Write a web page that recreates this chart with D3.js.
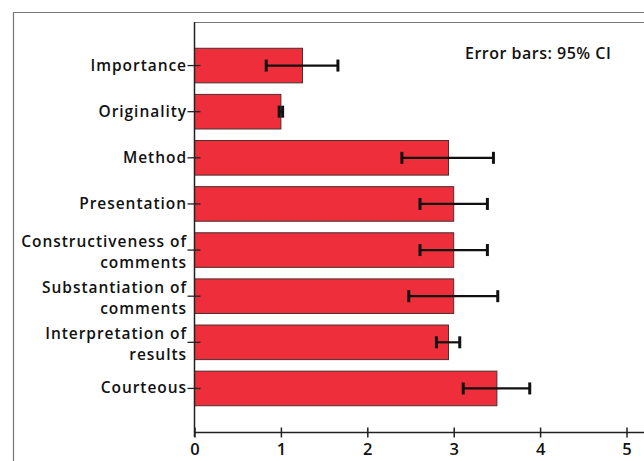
<!DOCTYPE html>
<html><head><meta charset="utf-8">
<script src="https://cdn.jsdelivr.net/npm/d3@7"></script>
<style>body{margin:0;background:#fff}svg{display:block}</style>
</head><body>
<script>
const categories = [["Importance"],["Originality"],["Method"],["Presentation"],["Constructiveness of","comments"],["Substantiation of","comments"],["Interpretation of","results"],["Courteous"]];
const means = [1.25, 1.00, 2.94, 3.00, 3.00, 3.00, 2.94, 3.50];
const ciLow = [0.83, 0.98, 2.40, 2.61, 2.61, 2.48, 2.80, 3.11];
const ciHigh = [1.66, 1.02, 3.46, 3.39, 3.39, 3.51, 3.07, 3.88];
const xTicks = [0,1,2,3,4,5];
const note = "Error bars: 95% CI";

const W=644,H=461;
const svg=d3.select("body").append("svg").attr("width",W).attr("height",H);
const font="'Open Sans', sans-serif";
const x=d3.scaleLinear().domain([0,5]).range([194.5,626.5]);
const ids=categories.map((c,i)=>i);
const y=d3.scaleBand().domain(ids).range([42.5,411.5]).paddingInner(0.25).paddingOuter(0.125);

// outer frame
svg.append("path").attr("d",`M13.5,${H}V12.5H${W}`).attr("fill","none").attr("stroke","#777").attr("stroke-width",1.2);
// plot top frame
svg.append("path").attr("d",`M194.5,22.5H${W}`).attr("fill","none").attr("stroke","#777").attr("stroke-width",1.2);

// bars
svg.append("g").selectAll("rect").data(ids).join("rect")
 .attr("x",x(0)).attr("y",i=>y(i)).attr("width",i=>x(means[i])-x(0)).attr("height",y.bandwidth())
 .attr("fill","#ee2f3b").attr("stroke","#4a3030").attr("stroke-width",1);

// error bars
const eg=svg.append("g").attr("stroke","#111");
ids.forEach(i=>{
  const cy=y(i)+y.bandwidth()/2;
  eg.append("line").attr("x1",x(ciLow[i])).attr("x2",x(ciHigh[i])).attr("y1",cy).attr("y2",cy).attr("stroke-width",2.2);
  [ciLow[i],ciHigh[i]].forEach(v=>{
    eg.append("line").attr("x1",x(v)).attr("x2",x(v)).attr("y1",cy-6).attr("y2",cy+6).attr("stroke-width",3);
  });
});

// y axis
const yAxis=d3.axisLeft(y).tickSize(6).tickFormat("");
const ya=svg.append("g").attr("transform","translate(194.5,0)").call(yAxis);
ya.select(".domain").attr("d","M0,22V437").attr("stroke","#222").attr("stroke-width",1.5);
ya.selectAll(".tick line").attr("x1",-7).attr("x2",6).attr("stroke","#222").attr("stroke-width",1.3);
ids.forEach(i=>{
  const cy=y(i)+y.bandwidth()/2;
  const lines=categories[i];
  const lh=21.2;
  const start=lines.length>1 ? cy-3.5 : cy+5;
  lines.forEach((s,k)=>svg.append("text").attr("text-anchor","end").attr("font-family",font).attr("font-weight",600)
    .attr("font-size",15.5).attr("letter-spacing","0.95px").attr("fill","#111")
    .attr("x",187).attr("y",start+k*lh).text(s));
});

// x axis
const xAxis=d3.axisBottom(x).tickValues(xTicks).tickSize(5).tickFormat(d3.format("d"));
const xa=svg.append("g").attr("transform","translate(0,432.5)").call(xAxis);
xa.select(".domain").attr("d",`M194.5,0H${W}`).attr("stroke","#222").attr("stroke-width",1.5);
xa.selectAll(".tick line").attr("y1",-5).attr("y2",5).attr("stroke","#222").attr("stroke-width",1.5);
xa.selectAll(".tick text").attr("y",11).attr("dy","0.71em").attr("font-family",font).attr("font-weight",600).attr("font-size",16.5).attr("fill","#111");

svg.append("text").attr("x",465).attr("y",59).attr("font-family",font).attr("font-weight",600).attr("font-size",16).attr("letter-spacing","0.5px").attr("fill","#111").text(note);
</script>
</body></html>
